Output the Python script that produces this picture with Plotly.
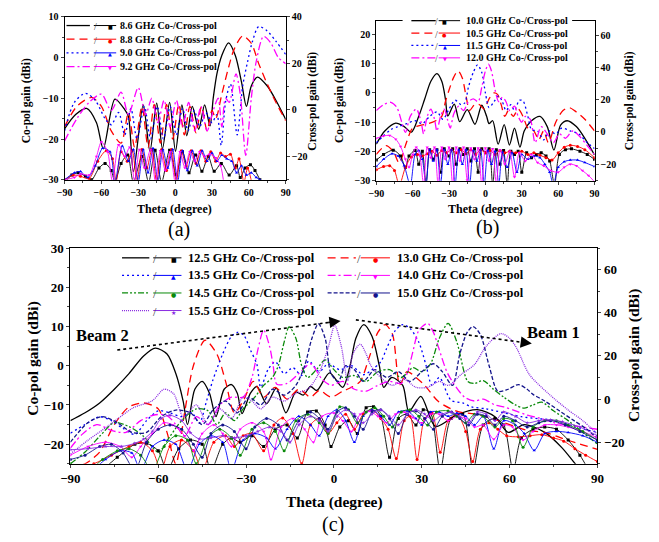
import plotly.graph_objects as go

W, H = 659, 542
FONT = "Liberation Serif"

# ---------------- DATA : panel (a) ----------------
A_FREQS = ["8.6", "8.8", "9.0", "9.2"]
A86_CO_T = [-90, -81, -72, -64, -58.5, -49, -41, -38, -34, -26, -20.5, -15, -10.3, -4.5, 0.3, 5.5, 9.5, 14, 19.2, 24, 28.4, 31, 34, 38, 43.5, 49, 54, 58, 62, 67, 75, 82, 90]
A86_CO_V = [-17.5, -14, -12.5, -16, -22.4, -10.2, -12.8, -14.5, -28, -11.6, -23, -11.2, -22.4, -11, -23, -11.6, -19.2, -12, -17.6, -11.6, -16.8, -10, -4, 0.5, 3.6, 0.5, -6, -12, -7, -4.8, -7, -10.5, -15.2]
A88_CO_T = [-90, -80, -68, -60, -52, -44, -38, -33, -27, -22, -17, -12, -7, -2, 3, 7.5, 12, 17, 21.5, 26, 30, 33, 38, 43, 48, 55, 62, 68, 75, 82, 90]
A88_CO_V = [-17, -12, -9.8, -12, -18, -21, -13.5, -22, -12, -22, -11.5, -21, -11.5, -20, -11.5, -19, -12, -18.5, -12, -18, -13, -15, -9, -3, 2, 5.3, 3.5, -1.5, -6.5, -11, -15.5]
A90_CO_T = [-90, -82, -73, -65, -57, -52, -46, -41, -36, -31, -25, -20, -14.5, -9.5, -4, 1, 6, 10.5, 15.5, 20, 25, 30, 34, 37.5, 41, 45, 50.5, 55, 59, 63, 68, 75, 82, 90]
A90_CO_V = [-18, -11, -8.8, -10.5, -15, -16.5, -13.5, -19, -12.5, -20, -12, -20, -12, -20, -12, -19, -12.5, -18, -13, -17, -13.5, -16, -14, -21.5, -11, -6.5, -19, -7, -1, 4, 7.6, 6.5, 4, 0.8]
A92_CO_T = [-90, -80, -70, -60, -52, -44, -38, -30, -24, -19, -14, -9, -4, 1, 6, 11, 16, 21, 26, 31, 35, 38, 41, 44, 49.5, 53, 57.5, 62, 66, 72, 78, 84, 90]
A92_CO_V = [-20.5, -15, -11, -9, -13, -8.5, -14, -7.4, -14, -10, -16, -10.5, -17, -10.5, -17, -11, -18, -12, -18, -13, -10, -17, -10, -11, -4, -9, -24, -10, -1, 5.2, 3.5, 0, -1.5]

A86_X_T = [-90, -84, -79, -73, -68, -62, -57, -52, -49, -44, -38.7, -34, -27, -21.6, -16.3, -11, -4.5, 0.8, 6, 11.3, 16.6, 21.8, 27, 31.8, 37.6, 44, 50, 53, 57, 61.3, 65, 69, 72]
A86_X_V = [-31, -28, -27, -28.5, -30, -25, -23, -26, -31, -23, -19.4, -31, -20, -31, -17.3, -31, -17.3, -27.8, -18, -27, -19.4, -26.4, -20, -26.4, -23, -28, -24, -29, -25, -23.6, -26, -30, -33]
A88_X_T = [-90, -83, -77, -70, -63, -56, -51, -48, -44, -39, -35, -31, -27, -23, -19, -15, -11, -7, -3, 1, 5, 9, 13, 17, 21, 25, 29, 33, 37, 41, 45, 49, 52, 56, 59, 63]
A88_X_V = [-30, -28, -28.5, -29.5, -22, -17.5, -21, -31, -18, -22, -17.5, -31, -17, -25, -17, -31, -17, -26, -17, -31, -17.5, -24, -17.5, -23, -17.5, -22, -18, -22, -18.5, -20, -19, -25, -21, -31, -25, -33]
A90_X_T = [-90, -82, -77, -71, -65, -59, -53, -49, -43, -38, -34, -30, -26, -22, -18, -14, -10, -6, -2, 2, 6, 10, 14, 18, 22, 26, 30, 34, 38, 42, 46, 50, 54, 58, 62, 66, 69, 72]
A90_X_V = [-30, -27, -26.5, -29, -24, -16.5, -18, -31, -15.5, -22, -17, -31, -17, -27, -16.5, -31, -17, -25, -17, -31, -17.5, -26, -17.5, -24, -17.5, -22, -18.5, -22, -19.5, -21, -22, -27, -24, -28, -27, -29, -30, -33]
A92_X_T = [-90, -82, -77, -70, -64, -60, -55, -51, -46, -41, -37, -33, -29, -25, -20, -16, -12, -8, -4, 0, 4, 8, 12, 16, 20, 24, 28, 33, 37, 40]
A92_X_V = [-30, -29, -27.5, -28, -20, -13.8, -18, -31, -15, -20, -16, -31, -17, -25, -17, -31, -17.5, -26, -18, -31, -18, -25, -18, -22, -18, -20, -19, -20.5, -24, -33]

# ---------------- DATA : panel (b) ----------------
B_FREQS = ["10.0", "10.5", "11.5", "12.0"]
B100_CO_T = [-90, -83, -74, -67, -61, -55, -50, -45, -40, -36, -33, -31, -25.7, -21.2, -15, -8.6, -3, 1, 3, 6, 10.5, 15.5, 19.8, 24, 28.5, 32, 38, 45, 51, 56.5, 62, 67.5, 75, 82, 90]
B100_CO_V = [-17.5, -13, -10.3, -11.5, -13.4, -8, -2, 4, 6.6, 4, -2, -7.9, -3.8, -9.8, -5.7, -10.7, -4.2, -8, -10.5, -9.5, -17.5, -10.8, -17.8, -12, -18.5, -13, -9.5, -8, -11.5, -19.5, -11, -9.5, -11.5, -15.5, -21.2]
B105_CO_T = [-90, -82, -76, -71, -66, -60, -53, -47, -41, -36, -33, -30, -26, -22.5, -19, -16, -13, -9, -5, -1, 3, 7, 10, 13, 16, 19, 23, 27, 31, 35, 40, 44, 48, 52, 58, 64, 69, 75, 82, 90]
B105_CO_V = [-21, -18, -20, -24, -18, -12, -11, -10.5, -9.5, -8, -3, 1, 5.5, 7.5, 5, -1, -6, -4, -4, -5.5, -2, 0, -0.5, -4, -8, -6, -8, -5.5, -8, -12, -13, -16, -13, -17, -10, -6, -5, -6.5, -9, -13]
B115_CO_T = [-90, -85, -78, -72, -65, -58, -52, -46, -40, -35, -30, -25, -20, -17, -14, -10, -6.5, -3, 0, 3, 7, 11, 14, 17, 21, 24, 28, 31, 35, 38, 43, 48, 53, 58, 63, 70, 77, 84, 90]
B115_CO_V = [-17, -15, -12.5, -11.5, -10.5, -9.5, -10.5, -8, -6.5, -9, -5.5, -2.5, -4, -3.4, 2, 7, 9.6, 7, 0, -5, -3, -1, -3, -6, -4, -6, -2.5, -2.7, -8, -12.5, -13, -16, -13, -14, -12, -13, -14, -17, -19]
B120_CO_T = [-90, -84, -78, -73, -69, -66, -62, -57, -53, -51, -48, -45, -42, -40, -37, -34, -31, -29, -26, -22, -18, -14, -10, -6, -3, 0, 2.5, 5, 8, 11, 14, 17, 20, 24, 27, 30, 33, 37, 41, 46, 51, 56, 61, 66, 72, 78, 84, 90]
B120_CO_V = [-6, -4, -3.2, -5, -10, -13.5, -8, -5.5, -10, -14, -8, -5.5, -9, -13, -8, -5.5, -9.5, -12, -7, -4.5, -6, -3, -2, -3, 2, 7.5, 9.8, 7.5, 1, -3, -1.5, -3, -6, -4.5, -8, -10, -8, -9, -17, -11.5, -14, -17, -14, -15.5, -13, -15, -18, -21]

B100_X_T = [-90, -84, -76, -70, -66, -63, -58, -55, -52, -49, -46, -43, -40, -37, -34, -30, -27, -24, -21, -18, -15, -12, -9, -6, -3, 0, 3, 6, 9, 12, 15, 18, 21, 24, 27, 30, 34, 38, 42, 46, 50, 53, 57, 61, 66, 71, 78, 84, 90]
B100_X_V = [-17.5, -14, -11.3, -15, -22, -15, -11.5, -20, -12, -33, -11, -17, -11, -25, -10.5, -15, -10.5, -20, -10.5, -14, -10.5, -18, -10.5, -25, -10.5, -13, -10.5, -33, -11, -20, -11.5, -33, -12, -14, -12, -25, -13, -16, -14, -13, -15, -18, -33, -14, -11, -10.5, -12, -14, -17]
B105_X_T = [-90, -84, -79, -75, -71, -66, -61, -56, -52, -48, -44, -40, -36, -32, -28, -24, -20, -16, -12, -8, -4, 0, 4, 8, 12, 16, 20, 25, 30, 35, 40, 45, 50, 55, 60, 65, 70, 76, 82, 90]
B105_X_V = [-23.5, -21.5, -21, -24, -33, -22, -15.5, -14, -15, -13.5, -12, -14.5, -11.5, -13, -11, -13, -11, -13.5, -11, -14, -11, -13, -11.5, -14, -11.5, -13, -12, -13, -12, -14, -13, -14.5, -16, -17.5, -13, -9.5, -8.3, -9, -11, -16]
B115_X_T = [-90, -84, -77, -72, -67, -62, -58, -55, -52, -49, -46, -43, -40, -37, -34, -31, -28, -25, -22, -19, -16, -13, -10, -7, -4, -1, 2, 5, 8, 11, 14, 18, 22, 26, 30, 35, 40, 45, 49, 53, 56, 60, 65, 70, 76, 82, 90]
B115_X_V = [-21.5, -17, -13.5, -15, -21, -33, -14, -11.5, -17, -33, -11, -18, -11, -33, -11, -20, -11, -33, -11, -20, -11, -33, -11.5, -18, -11, -33, -11.5, -20, -12, -33, -12.5, -22, -13, -25, -14, -17, -15, -16, -20, -25, -33, -22, -18.5, -17.5, -17.5, -19, -21.5]
B120_X_T = [-90, -84, -79, -74, -70, -66, -63, -60, -57, -54, -51, -48, -45, -42, -39, -36, -33, -30, -27, -24, -21, -18, -15, -12, -9, -6, -3, 0, 3, 6, 9, 12, 16, 20, 24, 28, 33, 38, 43, 48, 54, 60, 65, 70, 75, 80, 85, 90]
B120_X_V = [-4, -2.5, -2.2, -4.5, -9, -17, -22, -14, -9.5, -15, -33, -9.5, -16, -9.5, -33, -9.5, -17, -9.5, -33, -9.5, -18, -9.5, -30, -10, -17, -10, -33, -10, -18, -10.5, -33, -11, -20, -12, -28, -13, -18, -14, -19, -21, -24, -25, -22, -20, -21, -24, -27, -31]

# ---------------- DATA : panel (c) ----------------
C_FREQS = ["12.5", "13.0", "13.5", "14.0", "14.5", "15.0", "15.5"]
C125_CO_T = [-90, -85, -80, -75, -70, -65, -61, -57, -54, -51.5, -50, -47.5, -45, -42.5, -40.3, -37.5, -35, -33, -31.4, -28.5, -26.3, -23, -19.7, -16.4, -13, -10.5, -8, -5.8, -1.5, 3, 5.5, 7.5, 10.2, 13, 15.5, 17, 19.7, 23.5, 25.6, 29.7, 34.7, 42, 49, 55, 59.5, 65, 72, 78, 83, 88]
C125_CO_V = [-14, -12, -9.5, -6, -2, 2.5, 4.5, 3, -2, -9, -15, -6, -4, -7, -13, -6, -4.8, -7, -12.2, -7, -5.3, -9.7, -5.7, -12, -6.7, -7.5, -5.3, -6.3, -1.8, -5.5, 0, 7, 10.5, 7.5, 0, -5.5, -3, -5, -11.7, -7.8, -15.5, -12.5, -11.2, -13, -17, -15, -17, -21, -25.5, -29]
C130_CO_T = [-90, -85, -80, -75, -70, -65, -60, -57, -54, -51, -48, -44, -40, -37, -34, -31, -27.5, -24, -20, -16, -12, -8, -5, -1, 3, 6, 9, 12, 15, 17.5, 20, 22.5, 25, 28, 31, 35.8, 42.4, 48, 54, 60, 66, 72, 78, 84, 90]
C130_CO_V = [-26, -25, -22, -15, -10.5, -9.5, -11, -17, -25, -12, 0, 6.5, 3, -4, -12, -9, -4, -8, -5.5, -8.5, -6, -8, -6.3, -8, -6.5, -5.5, -4, 2, 8.5, 10.5, 8, -4.8, -1.5, -3, -5, -9.2, -11.7, -12.3, -13.5, -15, -16.5, -17, -18.5, -20, -21.3]
C135_CO_T = [-90, -85, -80, -76, -72, -68, -64, -60, -56, -52, -48.5, -46, -43.5, -41.4, -38, -35, -33, -30.8, -28.5, -26.3, -25, -22.5, -20, -17, -14, -11, -8.6, -5, -2, 2, 6, 10, 13, 16, 18, 21, 23.5, 26, 29, 31.5, 33.5, 36, 40, 44, 47, 52, 58, 64, 70, 76, 82, 90]
C135_CO_V = [-17.2, -15, -13, -14, -16, -17.5, -14, -11.5, -12, -13, -12, -14.7, -9, -3.8, 3, 7.5, 8.5, 7.8, 4, 0.3, -5.5, -1, 1, -2, -0.5, -2.5, 1.2, -1.5, 0.5, -1, 0, -2.3, -1, 1, 4.4, 9, 10.5, 9.5, 6, 0, -5, -3, -8.8, -9.5, -10.5, -11, -12, -13, -13.5, -14, -15.5, -17]
C140_CO_T = [-90, -86, -81, -76, -71, -66, -61, -57, -54, -51, -47, -43, -39, -35, -31, -28, -26, -24, -22, -20.8, -19.5, -16, -12, -8, -4, -1, 3, 7, 11, 15, 19, 23, 25, 27, 29, 32, 34, 35.8, 39, 44.6, 48, 51, 55, 58, 62, 66, 71, 76, 82, 90]
C140_CO_V = [-21, -17.5, -15, -16.5, -17, -14, -12.5, -12.7, -15, -18, -13, -15, -10, -8, -8, -3, 4, 9.1, 5, 0.3, -4.7, -4.5, -2, 0.5, -3.5, -5, -4, -6, -6.5, -5, -4, -4.5, -2, 3.7, 9, 10.8, 8.5, 4.5, -2.2, -8, -9, -8.5, -10, -10.5, -11.5, -12.6, -13.5, -14.7, -15.3, -16.2]
C145_CO_T = [-90, -85, -80, -75, -70, -65, -60, -56, -52, -47, -43, -40, -37, -34, -31, -27, -24, -21, -19, -17, -15.3, -13, -11, -9, -6, -3, 0, 3, 7, 11, 15, 19, 23, 27, 30, 33, 36, 39, 42, 45.7, 48, 51, 54.5, 58, 62, 65, 68, 71, 75, 80, 85, 90]
C145_CO_V = [-25, -22, -18, -14.5, -15.5, -18, -22, -18, -14, -11, -11.5, -15, -12, -14, -11, -8, -5, -3, 0, 6, 9.9, 7, 0, -3, -1, 1.5, -1, -3, -2.5, -4, -1.5, -1, -3, -0.5, -1.5, 0.5, 7, 10.8, 6, -4, -4.5, -3.8, -6, -8, -10, -10.8, -10, -9.3, -11.5, -14, -17, -20]
C150_CO_T = [-90, -84, -79, -74, -69, -64, -59, -54, -49, -45, -41, -37, -33, -29, -25, -21, -17, -13, -10, -7.5, -5.3, -3, -1, 1.5, 4, 7, 10, 14, 18, 22, 26, 30, 34, 37, 40.5, 43, 45.5, 47.5, 50, 53, 56, 59.5, 63, 66, 68, 72, 77, 82, 86, 90]
C150_CO_V = [-19.5, -14.5, -13, -14.5, -17, -17, -13, -11.3, -12, -15, -11, -9, -12, -8, -10, -6, -7.5, -5, 0, 7, 10.7, 7, -2, -4, 0, -1, -4, -1, -3, -1.5, -4, -1.5, 0.5, -1.5, -5, 3, 8.5, 10, 8, 0, -6.5, -6, -4.8, -6, -7.3, -9, -11.5, -14, -16, -18.5]
C155_CO_T = [-90, -84, -77.4, -72, -68.5, -62, -58, -54.7, -51.4, -47, -43, -39, -35, -31, -28, -25, -21, -17, -13, -9, -5.3, -2, 0.3, 2.5, 4.7, 6.5, 9, 11, 12.5, 16, 20, 24, 28, 32, 36, 39, 43.5, 48, 52, 57, 60, 62.4, 66.7, 73.4, 80, 85, 90]
C155_CO_V = [-22.5, -19, -15.5, -12.5, -10.7, -8.9, -6, -7.2, -13, -10, -15, -11, -13.5, -8, -9, -11, -8, -9, -7, -6, -2.2, 4.5, 10.3, 5, -3.8, 3, 5.5, 3, 0.2, -3, -5, -3.5, -5.5, -5.5, -4, -5, -2.2, 0.3, 5, 8.2, 7, 4.5, -2.2, -7.2, -11.3, -14, -17.5]

C125_X_T = [-90, -80, -74, -68, -64, -60, -57, -53, -49, -45, -42, -38, -35, -32, -28, -24, -20, -16, -12.5, -9, -6, -3, -1, 2, 5, 8, 11, 13.5, 16, 19, 22, 25, 28, 30.5, 33, 36.3, 40, 44, 47.5, 51, 55, 58, 61.2, 64, 68, 72, 76, 80, 84, 87]
C125_X_V = [-33, -33, -27, -21, -20.5, -24, -33, -23, -19, -21, -33, -21, -18, -20, -17, -22, -14, -12, -18, -6, -5.5, -12, -22, -13, -10, -16, -4, -3.6, -8, -27, -9, -7, -12, -5, -6.5, -33, -9, -7, -33, -12, -9, -12, -33, -18, -14, -13, -14, -19, -26, -33]
C130_X_T = [-90, -82, -76, -70, -66, -62, -59, -56, -52, -48, -45, -41, -37, -34, -31, -28, -24, -20.5, -17.5, -14, -11, -8, -5, -2, 1, 4, 7, 10, 13, 16, 18.5, 21.3, 24, 26, 28.4, 31, 33.5, 36.3, 39, 42, 45, 47.4, 50, 53, 56, 59, 63, 67, 71, 75, 78.5, 82.3, 86, 90]
C130_X_V = [-33, -30, -26, -22, -20, -24, -33, -22, -19, -24, -33, -20, -17, -22, -17, -16, -24, -12, -8.8, -16, -30, -12, -9, -16, -11, -7, -14, -7, -5, -9, -14, -27.6, -10, -8, -28, -9, -6.5, -24.6, -10, -7, -15, -29, -14, -11, -14, -17, -17.5, -17, -16.5, -18, -19.5, -23, -26, -29]
C135_X_T = [-90, -83, -78, -73, -69, -66, -62, -58, -54, -50, -46, -42, -38, -35, -31, -27, -23, -20, -16, -12, -8, -5, -2, 1, 4, 7, 10, 13, 16, 19, 22, 25, 28, 30, 33, 36, 39, 42, 45, 48, 51, 54.6, 58, 62, 65, 68.4, 72, 76, 80, 85, 90]
C135_X_V = [-33, -33, -28, -24, -25, -33, -22, -19, -21, -33, -21, -17, -20, -33, -19, -16, -18, -23, -14, -8, -12, -17, -8, -5, -10, -20, -8, -5, -8, -12, -6, -5.5, -9, -12, -6, -6, -8, -6.5, -8, -12, -8, -23, -10, -12, -16, -23.8, -16, -15, -15.5, -17, -20]
C140_X_T = [-90, -84, -78, -73, -69, -66, -62, -58, -55, -51, -48, -45, -41, -38, -35, -32, -28, -24, -21.5, -18, -14, -10, -7, -4, 0, 3, 6, 9, 12, 15, 18, 21, 24, 27, 30, 33, 36, 39, 42, 45, 48, 51, 54.6, 58, 61, 64.6, 68, 72, 76, 80, 85, 90]
C140_X_V = [-26, -22, -20, -22, -27, -22, -16, -11, -12, -17, -24, -16, -12, -16, -22, -14, -11, -15, -28, -13, -9, -14, -20, -8, -6.5, -10, -15, -7, -5.5, -8, -11, -7, -6, -8.5, -11, -7, -7, -10, -8, -9, -13, -12, -18.6, -12, -13, -19, -15, -12, -12, -13, -15, -18]
C145_X_T = [-90, -84, -79, -74, -70, -66, -62, -58, -54, -50, -47, -43, -39, -35, -32, -28, -24, -20, -17, -13, -9, -5, -2, 2, 5, 8, 11, 14, 17, 20, 23, 26, 29, 32, 35, 39, 42, 45, 48, 51, 55, 58, 61, 64.6, 68, 72, 76, 80, 85, 90]
C145_X_V = [-30, -33, -28, -24, -23, -26, -33, -22, -17, -19, -30, -18, -14, -18, -26, -14, -11, -15, -24, -10, -7, -11, -16, -3.6, -5, -11, -6, -4, -8, -13, -6, -5, -8, -12, -6, -5.5, -8, -11, -7, -8, -13, -9, -10, -22.3, -13, -10, -10, -12, -15, -19]
C150_X_T = [-90, -85, -80, -76, -72, -68, -64, -60, -56, -52, -48, -45, -42, -38, -34, -30, -27, -23, -19, -16, -12, -8, -5, -2, 1, 4, 7, 10, 13, 16, 19, 22, 25, 28, 31, 34, 37, 40.2, 43, 46, 49, 52, 55, 58, 62, 66, 70, 74, 79, 84, 90]
C150_X_V = [-28, -26, -22, -21, -25, -33, -20, -14, -12, -14, -21, -27, -16, -12, -15, -23, -13, -9, -12, -19, -10, -6, -9, -14, -6, -4, -8, -14, -6, -5, -9, -16, -7, -5.5, -9, -14, -8, -6, -9, -12, -7, -8, -12, -8, -10, -13, -11, -10, -12, -15, -19]
C155_X_T = [-90, -84, -78, -72.5, -68, -65, -62, -59, -56, -52, -49, -46, -42, -38, -34, -30, -26, -22, -18, -15, -12, -8, -5, -2, 1, 4, 7, 10, 13, 16, 19, 22, 25, 28, 31, 34, 37, 40, 43, 46, 49, 52, 55, 58, 62, 66, 70, 74, 78, 84, 90]
C155_X_V = [-23.5, -23, -22, -22, -20.5, -18.6, -15, -9, -7.5, -10, -15.6, -18.5, -18, -17, -18, -17, -15, -13, -15, -20, -12, -8, -10, -15, -8, -5, -7, -11, -7, -5, -8, -12, -7, -5, -7, -10, -7, -6, -8, -11, -6, -7, -10, -6, -8, -11, -10, -9.6, -10.5, -13, -17]

X_TICKS = [-90, -60, -30, 0, 30, 60, 90]

# ---------------- STYLES ----------------
BLACK, RED, BLUE, MAG = "#000000", "#FF0000", "#0000FF", "#FF00FF"
GREEN, NAVY, PURP = "#0A8A0A", "#14148C", "#8A2BE2"
ST = {
    "black": dict(c=BLACK, d="solid", m="square", s="■"),
    "red": dict(c=RED, d="8px,5px", m="circle", s="●"),
    "blue": dict(c=BLUE, d="2px,3px", m="triangle-up", s="▲"),
    "mag": dict(c=MAG, d="8px,3px,2px,3px", m="triangle-down", s="▼"),
    "green": dict(c=GREEN, d="6px,2px,2px,2px,2px,2px", m="circle", s="●"),
    "navy": dict(c=NAVY, d="4px,2px", m="circle", s="●"),
    "purp": dict(c=PURP, d="1px,1px", m="star", s="★"),
}

fig = go.Figure()


def add_pair(xa, yco, yx, st, tco, vco, tx, vx):
    s = ST[st]
    fig.add_trace(go.Scatter(x=tco, y=vco, xaxis=xa, yaxis=yco, mode="lines",
                             line=dict(color=s["c"], width=1.3, dash=s["d"], shape="spline", smoothing=0.8),
                             showlegend=False, hoverinfo="skip"))
    fig.add_trace(go.Scatter(x=tx, y=vx, xaxis=xa, yaxis=yx, mode="lines+markers",
                             line=dict(color=s["c"], width=0.9, shape="spline", smoothing=0.8),
                             marker=dict(symbol=s["m"], size=3, color=s["c"]),
                             showlegend=False, hoverinfo="skip", cliponaxis=True))


# panel a
for st, tco, vco, tx, vx in [("black", A86_CO_T, A86_CO_V, A86_X_T, A86_X_V),
                             ("red", A88_CO_T, A88_CO_V, A88_X_T, A88_X_V),
                             ("blue", A90_CO_T, A90_CO_V, A90_X_T, A90_X_V),
                             ("mag", A92_CO_T, A92_CO_V, A92_X_T, A92_X_V)]:
    add_pair("x", "y", "y2", st, tco, vco, tx, vx)
# panel b
for st, tco, vco, tx, vx in [("black", B100_CO_T, B100_CO_V, B100_X_T, B100_X_V),
                             ("red", B105_CO_T, B105_CO_V, B105_X_T, B105_X_V),
                             ("blue", B115_CO_T, B115_CO_V, B115_X_T, B115_X_V),
                             ("mag", B120_CO_T, B120_CO_V, B120_X_T, B120_X_V)]:
    add_pair("x2", "y3", "y4", st, tco, vco, tx, vx)
# panel c
C_STYLES = ["black", "red", "blue", "mag", "green", "navy", "purp"]
C_CO = [(C125_CO_T, C125_CO_V), (C130_CO_T, C130_CO_V), (C135_CO_T, C135_CO_V), (C140_CO_T, C140_CO_V),
        (C145_CO_T, C145_CO_V), (C150_CO_T, C150_CO_V), (C155_CO_T, C155_CO_V)]
C_X = [(C125_X_T, C125_X_V), (C130_X_T, C130_X_V), (C135_X_T, C135_X_V), (C140_X_T, C140_X_V),
       (C145_X_T, C145_X_V), (C150_X_T, C150_X_V), (C155_X_T, C155_X_V)]
for st, (tco, vco), (tx, vx) in zip(C_STYLES, C_CO, C_X):
    add_pair("x3", "y5", "y6", st, tco, vco, tx, vx)


def px(x):
    return x / W


def py(y):
    return 1 - y / H


def xax(dom, fs, anchor):
    return dict(domain=dom, range=[-90, 90], tickvals=X_TICKS, ticks="outside", ticklen=3,
                minor=dict(ticks="outside", ticklen=2, dtick=15, tick0=-90),
                showline=True, linecolor="black", linewidth=1, mirror=True, showgrid=False,
                zeroline=False, anchor=anchor,
                tickfont=dict(family=FONT, size=fs, color="black", weight="bold"))


def yax(dom, rng, dt, fs, anchor, side="left", overlay=None, minor=None):
    d = dict(range=rng, dtick=dt, tick0=0, ticks="outside", ticklen=3, showline=True,
             linecolor="black", linewidth=1, showgrid=False, zeroline=False, anchor=anchor, side=side,
             tickfont=dict(family=FONT, size=fs, color="black", weight="bold"))
    if minor:
        d["minor"] = dict(ticks="outside", ticklen=2, dtick=minor)
    if overlay:
        d["overlaying"] = overlay
    else:
        d["domain"] = dom
    return d


fig.update_layout(
    width=W, height=H, margin=dict(l=0, r=0, t=0, b=0),
    paper_bgcolor="white", plot_bgcolor="white",
    xaxis=xax([px(56), px(283)], 10, "y"),
    yaxis=yax([py(177), py(10)], [-30, 10], 10, 10, "x", minor=5),
    yaxis2=yax(None, [-30, 40], 20, 10, "x", side="right", overlay="y", minor=10),
    xaxis2=xax([px(376), px(600)], 10, "y3"),
    yaxis3=yax([py(178), py(14)], [-30, 24.7], 10, 10, "x2", minor=5),
    yaxis4=yax(None, [-30.3, 69.1], 20, 10, "x2", side="right", overlay="y3", minor=10),
    xaxis3=xax([px(62), px(603)], 13, "y5"),
    yaxis5=yax([py(468), py(247)], [-25, 30], 10, 13, "x3", minor=5),
    yaxis6=yax(None, [-30, 70], 20, 13, "x3", side="right", overlay="y5", minor=10),
)

shapes = []
annos = []


def text(x, y, s, size, bold=True, xanchor="center", angle=0, ref=("paper", "paper")):
    annos.append(dict(x=x, y=y, xref=ref[0], yref=ref[1], text=s, showarrow=False,
                      xanchor=xanchor, yanchor="middle", textangle=angle,
                      font=dict(family=FONT, size=size, color="black", weight="bold" if bold else "normal")))


# axis titles
text(px(17), py(96), "Co-pol gain (dBi)", 11.5, angle=-90)
text(px(311), py(96), "Cross-pol gain (dBi)", 11.5, angle=-90)
text(px(169), py(207), "Theta (degree)", 12)
text(px(173), py(228), "(a)", 20, bold=False)
text(px(338), py(96), "Co-pol gain (dBi)", 11.5, angle=-90)
text(px(636), py(96), "Cross-pol gain (dBi)", 11.5, angle=-90)
text(px(488), py(207), "Theta (degree)", 12)
text(px(490), py(226), "(b)", 20, bold=False)
text(px(24), py(360), "Co-pol gain (dBi)", 15.5, angle=-90)
text(px(641), py(357), "Cross-pol gain (dBi)", 15.5, angle=-90)
text(px(333), py(507), "Theta (degree)", 15.5)
text(px(332), py(530), "(c)", 20, bold=False)

# beam annotations (data coords in panel c)
text(-79, 7.7, "Beam 2", 16.5, ref=("x3", "y5"))
text(75, 8.6, "Beam 1", 16.5, ref=("x3", "y5"))
for (xa, ya, xb, yb) in [(-74, 4, -1, 11.1), (7.5, 11.7, 65, 5.9)]:
    shapes.append(dict(type="line", xref="x3", yref="y5", x0=xa, y0=ya, x1=xb, y1=yb,
                       line=dict(color="black", width=1.6, dash="dot")))
    annos.append(dict(x=xb + (xb - xa) * 0.045, y=yb + (yb - ya) * 0.045, xref="x3", yref="y5",
                      ax=xb - (xb - xa) * 0.02, ay=yb - (yb - ya) * 0.02, axref="x3", ayref="y5",
                      showarrow=True, arrowhead=2, arrowsize=1.6, arrowwidth=1.4, arrowcolor="black", text=""))


def legend_item(y, x_co0, x_co1, x_sl, x_so0, x_so1, x_mk, x_tx, st, label, fs, mks):
    s = ST[st]
    shapes.append(dict(type="line", xref="paper", yref="paper", x0=px(x_co0), x1=px(x_co1), y0=py(y), y1=py(y),
                       line=dict(color=s["c"], width=1.3, dash=s["d"])))
    shapes.append(dict(type="line", xref="paper", yref="paper", x0=px(x_so0), x1=px(x_so1), y0=py(y), y1=py(y),
                       line=dict(color=s["c"], width=1)))
    annos.append(dict(x=px(x_sl), y=py(y), xref="paper", yref="paper", text="/", showarrow=False,
                      yanchor="middle", yshift=-1,
                      font=dict(family=FONT, size=fs, color="#444")))
    annos.append(dict(x=px(x_mk), y=py(y), xref="paper", yref="paper", text=s["s"], showarrow=False,
                      yanchor="middle", yshift=-1.5,
                      font=dict(family="DejaVu Sans", size=mks, color=s["c"])))
    annos.append(dict(x=px(x_tx), y=py(y), xref="paper", yref="paper", text=label, showarrow=False,
                      xanchor="left", yanchor="middle",
                      font=dict(family=FONT, size=fs, color="black", weight="bold")))


for i, (st, f) in enumerate(zip(["black", "red", "blue", "mag"], A_FREQS)):
    legend_item(19 + 14 * i, 58, 82, 84, 86, 109, 99, 111, st, f + " GHz Co-/Cross-pol", 10, 5)

# white background for legend (b) covering the frame
shapes.append(dict(type="rect", xref="paper", yref="paper", x0=px(403), x1=px(577), y0=py(20), y1=py(8),
                   fillcolor="white", line=dict(width=0)))
for i, (st, f) in enumerate(zip(["black", "red", "blue", "mag"], B_FREQS)):
    legend_item(14 + 12.7 * i, 412, 437, 438, 440, 462, 451, 466, st, f + " GHz Co-/Cross-pol", 10, 5)

left_col = [("black", "12.5"), ("blue", "13.5"), ("green", "14.5"), ("purp", "15.5")]
right_col = [("red", "13.0"), ("mag", "14.0"), ("navy", "15.0")]
for i, (st, f) in enumerate(left_col):
    legend_item(257 + 18 * i, 115, 143, 145, 147, 176, 163, 181, st, f + " GHz Co-/Cross-pol", 12.4, 6)
for i, (st, f) in enumerate(right_col):
    legend_item(257 + 18 * i, 326, 355, 358, 360, 390, 375, 395, st, f + " GHz Co-/Cross-pol", 12.4, 6)

fig.update_layout(shapes=shapes, annotations=annos)
fig.write_html("out.html")
